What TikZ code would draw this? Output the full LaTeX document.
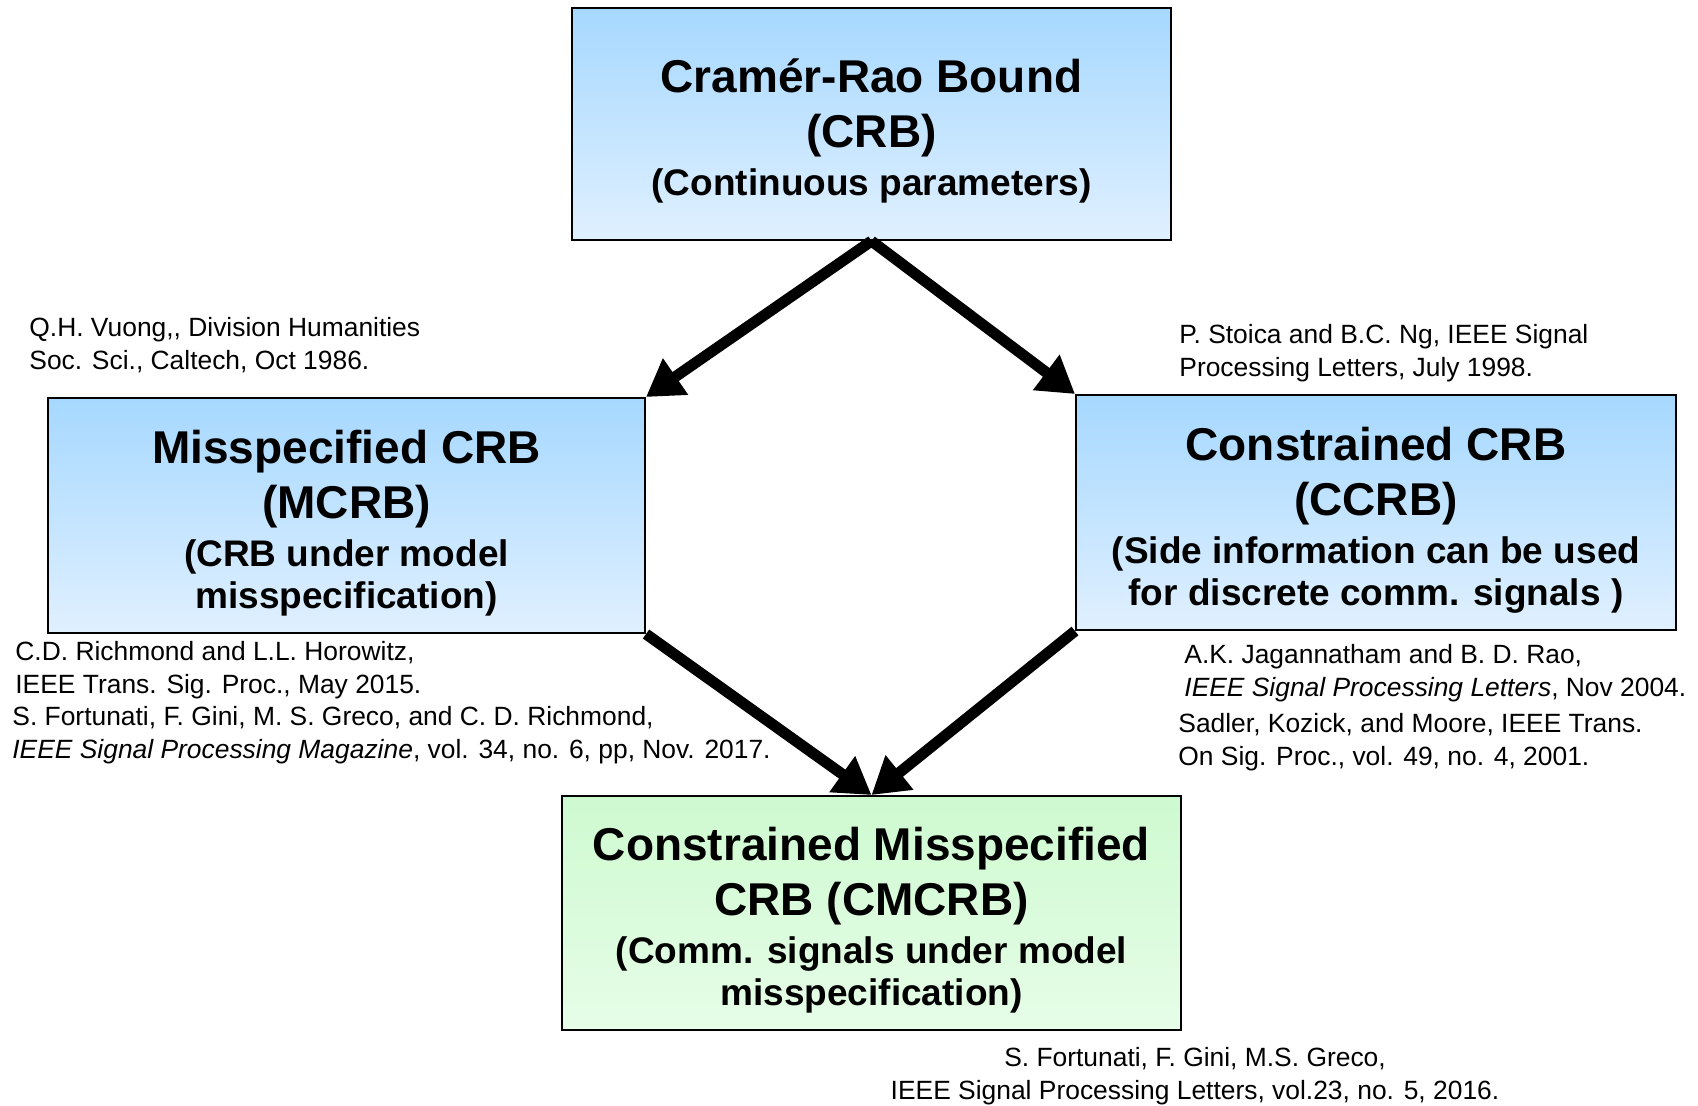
\documentclass[tikz,border=0pt]{standalone}
\usepackage{fontspec}
\setmainfont{Liberation Sans}
\usetikzlibrary{arrows.meta}
\definecolor{bluetop}{RGB}{166,216,255}
\definecolor{bluebot}{RGB}{224,240,255}
\definecolor{greentop}{RGB}{206,250,208}
\definecolor{greenbot}{RGB}{230,253,232}
\newcommand{\headfont}{\fontsize{23}{27.5}\selectfont\bfseries}
\newcommand{\notefont}{\fontsize{18.5}{21}\selectfont\bfseries}
\newcommand{\topstrut}{\rule{0pt}{24pt}}
\tikzset{
  bound/.style={draw, line width=1pt, top color=bluetop, bottom color=bluebot,
    minimum width=300pt, minimum height=117.5pt, align=center, inner sep=0pt,
    font=\headfont},
  cite/.style={align=left, inner sep=0pt, anchor=base west,
    font=\fontsize{13.2}{16.2}\selectfont}
}

\begin{document}
\begin{tikzpicture}[x=0.5pt,y=-0.5pt,>={Triangle[length=18pt,width=21pt]}]
\useasboundingbox (0,0) rectangle (1698,1105);

% the four bounds
\node[bound,minimum width=299.5pt,minimum height=116pt] (crb) at (871.5,124)
  {\topstrut Cramér-Rao Bound\\ (CRB)\\[-3.5pt] \notefont (Continuous parameters)};
\node[bound,minimum width=298.5pt] (mcrb) at (346.5,515.5)
  {\topstrut Misspecified CRB\\ (MCRB)\\[-3.5pt] \notefont (CRB under model\\[-6.5pt] \notefont misspecification)};
\node[bound] (ccrb) at (1376,512.5)
  {\topstrut Constrained CRB\\ (CCRB)\\[-3.5pt] \notefont (Side information can be used\\[-6.5pt] \notefont for discrete comm. signals )};
\node[bound,top color=greentop,bottom color=greenbot,minimum width=309.5pt,minimum height=117pt] (cmcrb) at (871.5,913)
  {\topstrut Constrained Misspecified\\ CRB (CMCRB)\\[-3.5pt] \notefont (Comm. signals under model\\[-6.5pt] \notefont misspecification)};

\draw[->,line width=5.5pt] (crb.south) -- (mcrb.north east);
\draw[->,line width=5.5pt] (crb.south) -- (ccrb.north west);
\draw[->,line width=5.5pt] (mcrb.south east) -- (cmcrb.north);
\draw[->,line width=5.5pt] (ccrb.south west) -- (cmcrb.north);

% references
\node[cite] (vuong) at (29,369) {Q.H. Vuong,{},{} Division Humanities\\ Soc. Sci., Caltech, Oct 1986.};
\node[cite] (stoica) at (1179,376) {P. Stoica and B.C. Ng, IEEE Signal\\ Processing Letters, July 1998.};
\node[cite] (richmond) at (15,693) {C.D. Richmond and L.L. Horowitz,\\ IEEE Trans. Sig. Proc., May 2015.};
\node[cite] (fortunatim) at (12,758) {S. Fortunati, F. Gini, M. S. Greco, and C. D. Richmond,\\ \textit{IEEE Signal Processing Magazine}, vol. 34, no. 6, pp, Nov. 2017.};
\node[cite] (jagannatham) at (1184,696) {A.K. Jagannatham and B. D. Rao,\\ \textit{IEEE Signal Processing Letters}, Nov 2004.};
\node[cite] (sadler) at (1178,765) {Sadler, Kozick, and Moore, IEEE Trans.\\ On Sig. Proc., vol. 49, no. 4, 2001.};
\node[cite,align=center,anchor=base] (fortunatil) at (1195,1099) {S. Fortunati, F. Gini, M.S. Greco,\\ IEEE Signal Processing Letters, vol.23, no. 5, 2016.};
\end{tikzpicture}
\end{document}
